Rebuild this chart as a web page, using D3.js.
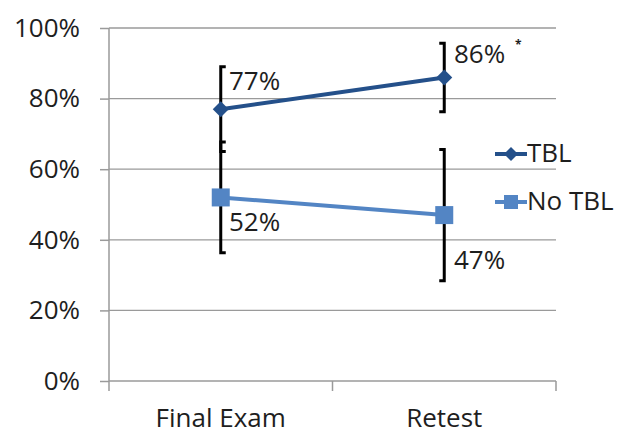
<!DOCTYPE html>
<html><head><meta charset="utf-8">
<script src="https://cdn.jsdelivr.net/npm/d3@7"></script>
<style>body{margin:0;background:#fff}svg{display:block}text{font-family:"Open Sans","DejaVu Sans",sans-serif}</style>
</head><body><svg id="c" width="620" height="434"></svg>
<script>
const categories = ["Final Exam", "Retest"];
const seriesNames = ["TBL", "No TBL"];
const tblValues = [0.77, 0.86];
const noTblValues = [0.52, 0.47];
const tblErrors = [0.12, 0.097];
const noTblErrors = [0.157, 0.186];
const yTicks = [0, 0.2, 0.4, 0.6, 0.8, 1.0];
const pointLabels = [["77%", "86%"], ["52%", "47%"]];

(function () {
const svg = d3.select("#c");
const pL = 109, pR = 556, pT = 28, pB = 381;
const fs = 26;
const x = d3.scaleBand().domain(categories).range([pL, pR]);
const y = d3.scaleLinear().domain([0, 1]).range([pB, pT]);
const grid = "#9a9a9a";
const txt = "#1e1e1e";

// gridlines
svg.append("g").selectAll("line").data(yTicks.filter(d => d > 0)).join("line")
  .attr("x1", pL).attr("x2", pR).attr("y1", d => y(d)).attr("y2", d => y(d))
  .attr("stroke", grid).attr("stroke-width", 1.3);

// y axis
const ya = svg.append("g").attr("transform", `translate(${pL},0)`)
  .call(d3.axisLeft(y).tickValues(yTicks).tickFormat(d3.format(".0%")).tickSize(9).tickPadding(20));
ya.selectAll("path,line").attr("stroke", grid).attr("stroke-width", 1.5);
ya.select(".domain").attr("d", `M0,${pT}V${pB}`);
ya.selectAll("text").attr("font-size", fs).attr("fill", txt).attr("font-family", null);

// x axis
const xa = svg.append("g").attr("transform", `translate(0,${pB})`);
xa.append("line").attr("x1", pL).attr("x2", pR).attr("stroke", grid).attr("stroke-width", 1.5);
const edges = [pL, ...categories.map(c => x(c) + x.bandwidth())];
xa.selectAll("line.t").data(edges).join("line").attr("class", "t")
  .attr("x1", d => d).attr("x2", d => d).attr("y1", 0).attr("y2", 10)
  .attr("stroke", grid).attr("stroke-width", 1.5);
xa.selectAll("text").data(categories).join("text")
  .attr("x", d => x(d) + x.bandwidth() / 2).attr("y", 46)
  .attr("text-anchor", "middle").attr("font-size", fs).attr("fill", txt).text(d => d);

const cx = c => x(c) + x.bandwidth() / 2;
const colors = ["#24508a", "#5385c4"];
const series = [tblValues, noTblValues];
const errs = [tblErrors, noTblErrors];

// error bars (caps on inner side)
series.forEach((vals, s) => {
  vals.forEach((v, i) => {
    const px = cx(categories[i]);
    const dir = i === 0 ? 1 : -1;
    const y1 = y(v + errs[s][i]), y2 = y(v - errs[s][i]);
    svg.append("path")
      .attr("d", `M${px + dir * 5},${y1}H${px}V${y2}H${px + dir * 5}`)
      .attr("fill", "none").attr("stroke", "#000").attr("stroke-width", 3);
  });
});

// lines and markers
const line = d3.line().x((d, i) => cx(categories[i])).y(d => y(d));
series.forEach((vals, s) => {
  svg.append("path").datum(vals).attr("d", line)
    .attr("fill", "none").attr("stroke", colors[s]).attr("stroke-width", 4);
});
const diamond = (g, px, py, r) => g.append("path")
  .attr("d", `M${px - r},${py}L${px},${py - r}L${px + r},${py}L${px},${py + r}Z`).attr("fill", colors[0]);
const square = (g, px, py, r) => g.append("rect")
  .attr("x", px - r).attr("y", py - r).attr("width", 2 * r).attr("height", 2 * r).attr("fill", colors[1]);
tblValues.forEach((v, i) => diamond(svg, cx(categories[i]), y(v), 8));
noTblValues.forEach((v, i) => square(svg, cx(categories[i]), y(v), 9));

// data labels
const lbl = [[[229, 90], [454, 63]], [[229, 231], [454, 269]]];
pointLabels.forEach((row, s) => row.forEach((t, i) => {
  svg.append("text").attr("x", lbl[s][i][0]).attr("y", lbl[s][i][1])
    .attr("font-size", fs).attr("fill", txt).text(t);
}));
svg.append("text").attr("x", 515).attr("y", 49).attr("font-size", 12).attr("font-weight", "bold").attr("fill", txt).text("*");

// legend
const lg = svg.append("g");
[[154, 0], [202, 1]].forEach(([ly, s]) => {
  lg.append("line").attr("x1", 495).attr("x2", 527).attr("y1", ly).attr("y2", ly)
    .attr("stroke", colors[s]).attr("stroke-width", 4);
  if (s === 0) diamond(lg, 511, ly, 7); else square(lg, 511, ly, 7);
  lg.append("text").attr("x", 527).attr("y", ly + 8).attr("font-size", fs).attr("fill", txt).text(seriesNames[s]);
});
})();
</script></body></html>
